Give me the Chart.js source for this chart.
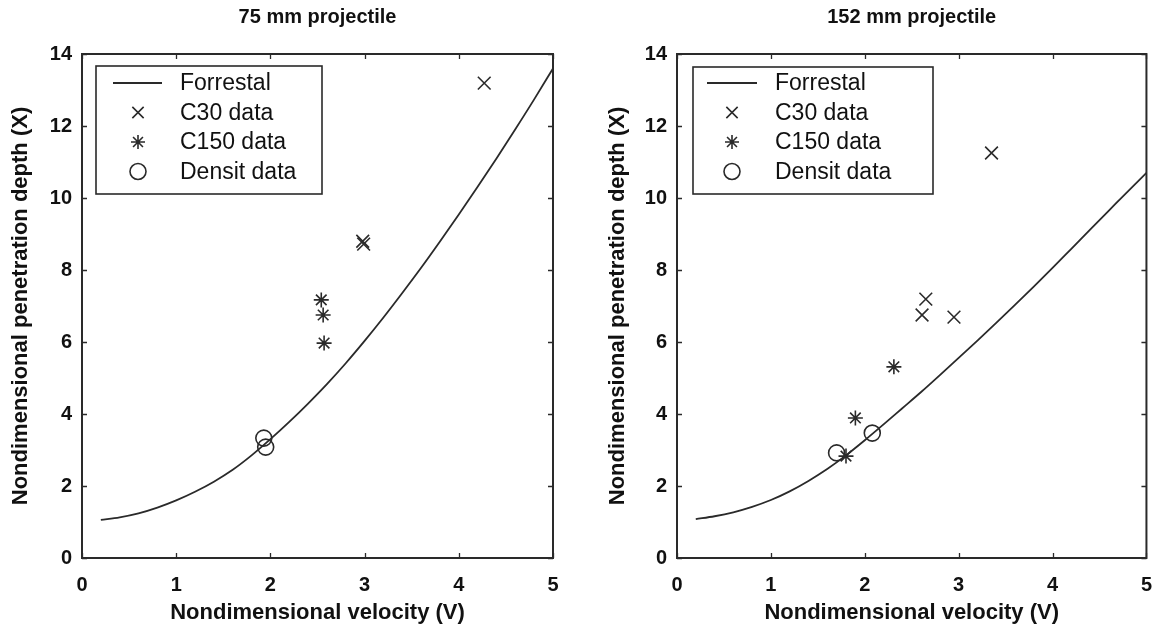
<!DOCTYPE html>
<html>
<head>
<meta charset="utf-8">
<script src="https://cdn.jsdelivr.net/npm/chart.js@4/dist/chart.umd.min.js"></script>
<style>
  html,body{margin:0;padding:0;background:#fff;}
  #wrap{position:relative;width:1167px;height:626px;background:#fff;}
  canvas{position:absolute;top:0;}
</style>
</head>
<body>
<div id="wrap">
  <canvas id="c1" width="583" height="626" style="left:0"></canvas>
  <canvas id="c2" width="584" height="626" style="left:583px"></canvas>
</div>
<script>
// ---------- data ----------
const panelTitles = ['75 mm projectile', '152 mm projectile'];
const xAxisTitle = 'Nondimensional velocity (V)';
const yAxisTitle = 'Nondimensional penetration depth (X)';
const seriesNames = ['Forrestal', 'C30 data', 'C150 data', 'Densit data'];
const xTicks = [0, 1, 2, 3, 4, 5];
const yTicks = [0, 2, 4, 6, 8, 10, 12, 14];

const curveV = [0.2, 0.4, 0.6, 0.8, 1.0, 1.2, 1.4, 1.6, 1.8, 2.0, 2.2, 2.4, 2.6,
                2.8, 3.0, 3.2, 3.4, 3.6, 3.8, 4.0, 4.2, 4.4, 4.6, 4.8, 5.0];
const forrestal75 = [1.06, 1.13, 1.24, 1.40, 1.60, 1.84, 2.12, 2.45, 2.85, 3.30, 3.78, 4.29, 4.83,
                     5.41, 6.03, 6.68, 7.36, 8.06, 8.79, 9.54, 10.31, 11.10, 11.91, 12.74, 13.6];
const forrestal152 = [1.08, 1.16, 1.27, 1.42, 1.61, 1.85, 2.14, 2.47, 2.85, 3.27, 3.71, 4.16, 4.61,
                      5.08, 5.56, 6.04, 6.53, 7.03, 7.54, 8.06, 8.59, 9.12, 9.65, 10.18, 10.7];

const c30V75 = [4.27, 2.98, 2.99];
const c30X75 = [13.19, 8.80, 8.72];
const c150V75 = [2.54, 2.56, 2.57];
const c150X75 = [7.17, 6.75, 5.97];
const densitV75 = [1.93, 1.95];
const densitX75 = [3.33, 3.08];

const c30V152 = [3.35, 2.65, 2.61, 2.95];
const c30X152 = [11.25, 7.19, 6.75, 6.69];
const c150V152 = [2.31, 1.90, 1.80];
const c150X152 = [5.31, 3.89, 2.83];
const densitV152 = [1.70, 2.08];
const densitX152 = [2.92, 3.47];

// ---------- helpers ----------
const INK = '#2a2a2a';
const FONT = '"Liberation Sans", Arial, Helvetica, sans-serif';
const pts = (xs, ys) => xs.map((x, i) => ({x: x, y: ys[i]}));

const decorPlugin = {
  id: 'decor',
  afterDraw(chart, args, o) {
    const ctx = chart.ctx;
    const a = chart.chartArea;
    const xs = chart.scales.x, ys = chart.scales.y;
    ctx.save();
    // inward tick marks
    ctx.strokeStyle = INK;
    ctx.lineWidth = 1.3;
    ctx.beginPath();
    xTicks.forEach(v => {
      const px = Math.round(xs.getPixelForValue(v)) + 0.5;
      ctx.moveTo(px, a.bottom); ctx.lineTo(px, a.bottom - 5);
      ctx.moveTo(px, a.top); ctx.lineTo(px, a.top + 5);
    });
    yTicks.forEach(v => {
      const py = Math.round(ys.getPixelForValue(v)) + 0.5;
      ctx.moveTo(a.left, py); ctx.lineTo(a.left + 5, py);
      ctx.moveTo(a.right, py); ctx.lineTo(a.right - 5, py);
    });
    ctx.stroke();
    // frame
    ctx.lineWidth = 2;
    ctx.strokeRect(a.left, a.top, a.right - a.left, a.bottom - a.top);
    // panel title
    ctx.fillStyle = '#111';
    ctx.font = 'bold 20px ' + FONT;
    ctx.textAlign = 'center';
    ctx.textBaseline = 'middle';
    ctx.fillText(o.title, (a.left + a.right) / 2, o.titleY);
    // legend
    const L = o.legend;
    ctx.fillStyle = '#fff';
    ctx.fillRect(L.left, L.top, L.width, L.height);
    ctx.strokeStyle = INK;
    ctx.lineWidth = 1.6;
    ctx.strokeRect(L.left, L.top, L.width, L.height);
    ctx.font = '23px ' + FONT;
    ctx.textAlign = 'left';
    chart.data.datasets.forEach((ds, i) => {
      const y = L.top + L.first + i * L.rowH;
      ctx.strokeStyle = ds.borderColor;
      ctx.fillStyle = ds.backgroundColor;
      if (ds.showLine) {
        ctx.lineWidth = ds.borderWidth;
        ctx.beginPath();
        ctx.moveTo(L.left + L.line0, y); ctx.lineTo(L.left + L.line1, y);
        ctx.stroke();
      } else {
        ctx.lineWidth = ds.pointBorderWidth;
        Chart.helpers.drawPoint(ctx, {
          pointStyle: ds.pointStyle, radius: ds.legendRadius, rotation: 0,
          borderWidth: ds.pointBorderWidth
        }, L.left + L.marker, y);
      }
      ctx.fillStyle = '#111';
      ctx.fillText(ds.label, L.left + L.text, y + 1);
    });
    ctx.restore();
  }
};

function makeChart(id, curve, c30, c150, densit, opt) {
  return new Chart(document.getElementById(id), {
    type: 'scatter',
    data: {
      datasets: [
        {label: seriesNames[0], type: 'line', data: pts(curveV, curve), showLine: true,
         borderColor: INK, backgroundColor: INK, borderWidth: 1.8, pointRadius: 0,
         cubicInterpolationMode: 'monotone', fill: false},
        {label: seriesNames[1], data: pts(c30[0], c30[1]), pointStyle: 'crossRot',
         pointRadius: 9, legendRadius: 8, borderColor: INK, backgroundColor: INK, pointBorderWidth: 1.6,
         borderWidth: 1.6},
        {label: seriesNames[2], data: pts(c150[0], c150[1]), pointStyle: 'star',
         pointRadius: 7.5, legendRadius: 7, borderColor: INK, backgroundColor: INK, pointBorderWidth: 1.6,
         borderWidth: 1.6},
        {label: seriesNames[3], data: pts(densit[0], densit[1]), pointStyle: 'circle',
         pointRadius: 8, legendRadius: 8, borderColor: INK, backgroundColor: 'rgba(0,0,0,0)',
         pointBorderWidth: 1.6, borderWidth: 1.6}
      ]
    },
    options: {
      responsive: false,
      animation: false,
      devicePixelRatio: 1,
      layout: {padding: {top: 54, right: opt.padRight, bottom: 0, left: 0}},
      plugins: {
        legend: {display: false},
        tooltip: {enabled: false},
        decor: {title: opt.title, titleY: 17, legend: opt.legend}
      },
      scales: {
        x: {
          type: 'linear', min: 0, max: 5,
          afterFit: s => { s.height = 68; },
          afterBuildTicks: s => { s.ticks = xTicks.map(v => ({value: v})); },
          grid: {display: false, drawTicks: false},
          border: {display: false},
          ticks: {color: '#111', padding: 15, font: {family: FONT, size: 20, weight: 'bold'}},
          title: {display: true, text: xAxisTitle, color: '#111', padding: {top: 0, bottom: 0},
                  font: {family: FONT, size: 22, weight: 'bold'}}
        },
        y: {
          type: 'linear', min: 0, max: 14,
          afterFit: s => { s.width = opt.yWidth; },
          afterBuildTicks: s => { s.ticks = yTicks.map(v => ({value: v})); },
          grid: {display: false, drawTicks: false},
          border: {display: false},
          ticks: {color: '#111', padding: 10, font: {family: FONT, size: 20, weight: 'bold'}},
          title: {display: true, text: yAxisTitle, color: '#111', padding: {top: opt.yTitlePad, bottom: 0},
                  font: {family: FONT, size: 22, weight: 'bold'}}
        }
      }
    },
    plugins: [decorPlugin]
  });
}

makeChart('c1', forrestal75, [c30V75, c30X75], [c150V75, c150X75], [densitV75, densitX75], {
  title: panelTitles[0], padRight: 30, yWidth: 82, yTitlePad: 8,
  legend: {left: 96, top: 66, width: 226, height: 128, first: 17, rowH: 29.5,
           line0: 17, line1: 66, marker: 42, text: 84}
});
makeChart('c2', forrestal152, [c30V152, c30X152], [c150V152, c150X152], [densitV152, densitX152], {
  title: panelTitles[1], padRight: 16, yWidth: 94, yTitlePad: 22,
  legend: {left: 110, top: 67, width: 240, height: 127, first: 16, rowH: 29.5,
           line0: 14, line1: 64, marker: 39, text: 82}
});
</script>
</body>
</html>
